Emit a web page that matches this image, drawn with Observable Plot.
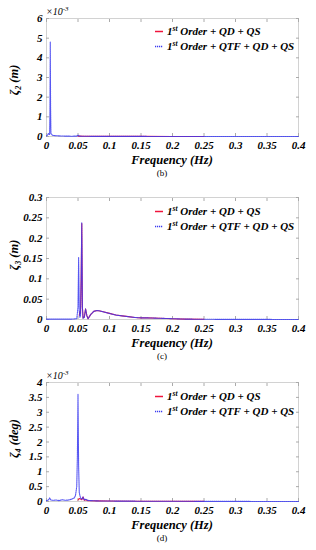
<!DOCTYPE html>
<html><head><meta charset="utf-8">
<script src="https://cdn.jsdelivr.net/npm/d3@7"></script>
<script src="https://cdn.jsdelivr.net/npm/@observablehq/plot@0.6"></script>
<style>
body{margin:0;background:#fff;width:316px;overflow:hidden}
.panel{position:relative;width:316px}
</style></head><body>
<div id="p1" class="panel" style="height:182px"></div>
<div id="p2" class="panel" style="height:183px"></div>
<div id="p3" class="panel" style="height:185px"></div>
<script>
// Shared ticks
const xTicks = [0, 0.05, 0.1, 0.15, 0.2, 0.25, 0.3, 0.35, 0.4];
const legendLabels = ["Order + QD + QS", "Order + QTF + QD + QS"];

// Panel (b): zeta_2 (m), values in units of 1e-3
const yTicks2 = [0, 1, 2, 3, 4, 5, 6];
const f2Red = [0.05, 0.06, 0.1, 0.15, 0.2, 0.25];
const v2Red = [0.02, 0.01, 0.006, 0.004, 0.003, 0.002];
const f2Blue = [0, 0.002, 0.003, 0.004, 0.005, 0.0055, 0.006, 0.0065, 0.007, 0.008, 0.009, 0.010, 0.012, 0.015, 0.02, 0.03, 0.04, 0.048, 0.05, 0.052, 0.06, 0.1, 0.2, 0.3, 0.4];
const v2Blue = [0.03, 0.08, 0.15, 0.12, 0.1, 1.2, 4.8, 1.5, 0.15, 0.12, 0.08, 0.06, 0.05, 0.04, 0.03, 0.02, 0.015, 0.02, 0.06, 0.02, 0.01, 0.005, 0.003, 0.002, 0.001];

// Panel (c): zeta_3 (m)
const yTicks3 = [0, 0.05, 0.1, 0.15, 0.2, 0.25, 0.3];
const f3Red = [0.052, 0.053, 0.054, 0.055, 0.056, 0.057, 0.058, 0.06, 0.062, 0.064, 0.066, 0.07, 0.075, 0.08, 0.085, 0.09, 0.1, 0.11, 0.12, 0.13, 0.14, 0.15, 0.16, 0.18, 0.2, 0.22, 0.25];
const v3Red = [0.01, 0.02, 0.015, 0.1, 0.236, 0.03, 0.004, 0.006, 0.026, 0.01, 0.002, 0.012, 0.02, 0.022, 0.021, 0.019, 0.015, 0.011, 0.009, 0.007, 0.005, 0.004, 0.004, 0.003, 0.002, 0.001, 0.0005];
const f3Blue = [0, 0.02, 0.04, 0.048, 0.05, 0.051, 0.052, 0.053, 0.054, 0.055, 0.056, 0.057, 0.058, 0.06, 0.062, 0.064, 0.066, 0.07, 0.075, 0.08, 0.085, 0.09, 0.1, 0.11, 0.12, 0.13, 0.14, 0.15, 0.16, 0.18, 0.2, 0.22, 0.25, 0.3, 0.35, 0.4];
const v3Blue = [0.001, 0.001, 0.001, 0.002, 0.03, 0.153, 0.02, 0.005, 0.01, 0.1, 0.238, 0.03, 0.003, 0.005, 0.026, 0.01, 0.002, 0.012, 0.02, 0.022, 0.021, 0.019, 0.015, 0.011, 0.009, 0.007, 0.005, 0.004, 0.004, 0.003, 0.002, 0.001, 0.0005, 0.0003, 0.0002, 0.0001];

// Panel (d): zeta_4 (deg), values in units of 1e-3
const yTicks4 = [0, 0.5, 1, 1.5, 2, 2.5, 3, 3.5, 4];
const f4Red = [0.05, 0.052, 0.054, 0.056, 0.058, 0.06, 0.062, 0.065, 0.07, 0.08, 0.1, 0.15, 0.2, 0.25];
const v4Red = [0.05, 0.1, 0.08, 0.06, 0.15, 0.04, 0.06, 0.03, 0.025, 0.02, 0.015, 0.01, 0.008, 0.005];
const f4Blue = [0, 0.003, 0.005, 0.007, 0.01, 0.015, 0.02, 0.025, 0.03, 0.035, 0.04, 0.044, 0.046, 0.048, 0.049, 0.05, 0.051, 0.052, 0.054, 0.056, 0.058, 0.06, 0.062, 0.065, 0.07, 0.08, 0.1, 0.15, 0.2, 0.25, 0.3, 0.35, 0.4];
const v4Blue = [0.03, 0.05, 0.12, 0.05, 0.04, 0.05, 0.03, 0.06, 0.04, 0.05, 0.08, 0.12, 0.2, 0.5, 1.5, 3.6, 1.2, 0.3, 0.12, 0.08, 0.15, 0.05, 0.08, 0.04, 0.03, 0.02, 0.015, 0.01, 0.008, 0.005, 0.003, 0.002, 0.001];

const RED = "#f0143c";
const BLUE = "#3a3af0";
const FONT = "'Liberation Serif', 'Times New Roman', serif";

function zip(f, v) { return f.map((x, i) => ({x, y: v[i]})); }

function panel(el, cfg) {
  const W = 316, ml = 46, mr = 18;
  const plot = Plot.plot({
    width: W, height: cfg.height,
    marginLeft: ml, marginRight: mr, marginTop: cfg.mt, marginBottom: cfg.height - cfg.bottom,
    style: {fontFamily: FONT, fontSize: "11px", fontWeight: "bold", fontStyle: "italic", color: "#000", background: "#fff"},
    x: {domain: [0, 0.4]},
    y: {domain: cfg.yDomain},
    marks: [
      Plot.frame({stroke: "#c8c8c8", strokeWidth: 0.8}),
      Plot.axisX({ticks: xTicks, tickSize: 0, tickPadding: 5, label: null, tickFormat: d => String(d)}),
      Plot.axisX({ticks: xTicks, tickSize: -3, text: null, label: null, stroke: "#aaa"}),
      Plot.axisX({ticks: xTicks, anchor: "top", tickSize: -3, text: null, label: null, stroke: "#aaa"}),
      Plot.axisY({ticks: cfg.yTicks, tickSize: 0, tickPadding: 4, label: null, tickFormat: d => String(d)}),
      Plot.axisY({ticks: cfg.yTicks, tickSize: -3, text: null, label: null, stroke: "#aaa"}),
      Plot.axisY({ticks: cfg.yTicks, anchor: "right", tickSize: -3, text: null, label: null, stroke: "#aaa"}),
      Plot.line(zip(cfg.fRed, cfg.vRed), {x: "x", y: "y", stroke: RED, strokeWidth: 1.1}),
      Plot.line(zip(cfg.fBlue, cfg.vBlue), {x: "x", y: "y", stroke: BLUE, strokeWidth: 1.1, strokeDasharray: "1.2,0.8", strokeOpacity: 0.85})
    ]
  });
  const svg = d3.select(plot);
  const g = svg.append("g").attr("font-family", FONT).attr("font-weight", "bold").attr("font-style", "italic").attr("fill", "#000").attr("text-anchor", "start");
  const cx = ml + (W - ml - mr) / 2;
  // x label
  g.append("text").attr("x", cx).attr("y", cfg.bottom + 28).attr("text-anchor", "middle").attr("font-size", 12.5).text("Frequency (Hz)");
  // caption
  g.append("text").attr("x", 162).attr("y", cfg.bottom + 40).attr("text-anchor", "middle").attr("font-size", 9).attr("font-weight", "normal").attr("font-style", "normal").text(cfg.caption);
  // y label
  const ycen = (cfg.mt + cfg.bottom) / 2 + cfg.yOff;
  const yl = g.append("text").attr("transform", `translate(18,${ycen}) rotate(-90)`).attr("text-anchor", "middle").attr("font-size", 12.5);
  yl.append("tspan").text("ζ");
  yl.append("tspan").attr("font-size", 8).attr("dy", 3).text(cfg.sub);
  yl.append("tspan").attr("dy", -3).text(" " + cfg.unit);
  // exponent
  if (cfg.exp) {
    const ex = g.append("text").attr("x", 46).attr("y", cfg.mt - 3).attr("font-size", 10).attr("font-weight", "normal");
    ex.append("tspan").text("×10");
    ex.append("tspan").attr("font-size", 7).attr("dy", -4).text("-3");
  }
  // legend
  const ly = cfg.mt + cfg.leg;
  const rows = [{c: RED, dash: null}, {c: BLUE, dash: "1.2,0.8"}];
  rows.forEach((r, i) => {
    const y = ly + i * 15;
    const ln = svg.append("line").attr("x1", 155).attr("x2", 163).attr("y1", y - 3.5).attr("y2", y - 3.5).attr("stroke", r.c).attr("stroke-width", 1.5);
    if (r.dash) ln.attr("stroke-dasharray", r.dash);
    const t = g.append("text").attr("x", 167).attr("y", y).attr("font-size", 11);
    t.append("tspan").text("1");
    t.append("tspan").attr("font-size", 7.5).attr("dy", -4).text("st");
    t.append("tspan").attr("dy", 4).text(" " + legendLabels[i]);
  });
  document.getElementById(el).appendChild(plot);
}

panel("p1", {height: 182, mt: 18, bottom: 136, yDomain: [0, 6], yTicks: yTicks2, fRed: f2Red, vRed: v2Red, fBlue: f2Blue, vBlue: v2Blue, caption: "(b)", sub: "2", unit: "(m)", exp: true, leg: 17, yOff: 3});
panel("p2", {height: 183, mt: 15, bottom: 137, yDomain: [0, 0.3], yTicks: yTicks3, fRed: f3Red, vRed: v3Red, fBlue: f3Blue, vBlue: v3Blue, caption: "(c)", sub: "3", unit: "(m)", exp: false, leg: 18, yOff: -3});
panel("p3", {height: 185, mt: 17, bottom: 136, yDomain: [0, 4], yTicks: yTicks4, fRed: f4Red, vRed: v4Red, fBlue: f4Blue, vBlue: v4Blue, caption: "(d)", sub: "4", unit: "(deg)", exp: true, leg: 18, yOff: -3});
</script>
</body></html>
